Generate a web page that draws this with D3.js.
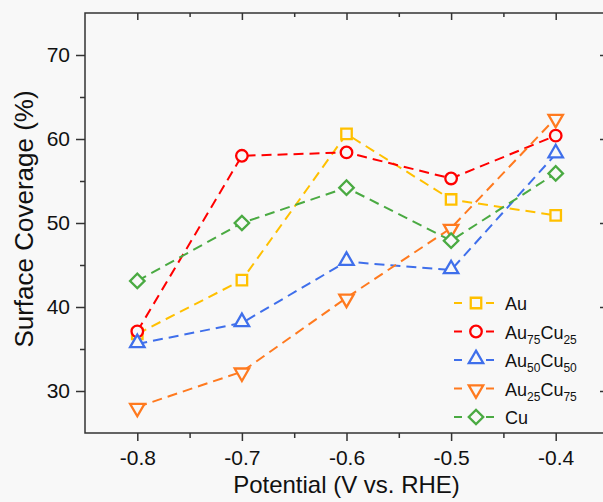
<!DOCTYPE html>
<html>
<head>
<meta charset="utf-8">
<script src="https://cdn.jsdelivr.net/npm/d3@7"></script>
<style>
  html, body { margin: 0; padding: 0; background: #f8f8f8; }
  svg { display: block; }
  text { font-family: "Liberation Sans", Arial, sans-serif; fill: #111; }
</style>
</head>
<body>
<svg id="chart" width="603" height="502"></svg>
<script>
// ---- data ----
const potentials = [-0.8, -0.7, -0.6, -0.5, -0.4];
const seriesNames = ["Au", "Au75Cu25", "Au50Cu50", "Au25Cu75", "Cu"];
const auValues       = [36.8, 43.2, 60.6, 52.8, 50.9];
const au75cu25Values = [37.1, 58.0, 58.4, 55.3, 60.4];
const au50cu50Values = [35.6, 38.1, 45.4, 44.4, 58.2];
const au25cu75Values = [28.1, 32.3, 41.1, 49.4, 62.5];
const cuValues       = [43.1, 50.0, 54.2, 47.9, 55.9];
const xTicks = [-0.8, -0.7, -0.6, -0.5, -0.4];
const xMinorTicks = [-0.75, -0.65, -0.55, -0.45];
const yTicks = [30, 40, 50, 60, 70];
const yMinorTicks = [35, 45, 55, 65];

const seriesValues = [auValues, au75cu25Values, au50cu50Values, au25cu75Values, cuValues];
const colors = ["#FFC000", "#FF0000", "#3F6FEB", "#FF7A1F", "#4AAA42"];
const shapes = ["square", "circle", "triangle", "invtriangle", "diamond"];
const legendParts = [
  [["Au", false]],
  [["Au", false], ["75", true], ["Cu", false], ["25", true]],
  [["Au", false], ["50", true], ["Cu", false], ["50", true]],
  [["Au", false], ["25", true], ["Cu", false], ["75", true]],
  [["Cu", false]]
];

const svg = d3.select("#chart");
const bg = "#f8f8f8";
const L = 85, R = 608, T = 13, B = 433;

const x = d3.scaleLinear().domain([-0.85, -0.35]).range([L, R]);
const y = d3.scaleLinear().domain([25, 75]).range([B, T]);

const fmt = v => d3.format(".1f")(v).replace("\u2212", "-");
const axisColor = "#333";

// axes
function styleAxis(g) {
  g.select(".domain").remove();
  g.selectAll(".tick line").attr("stroke", axisColor).attr("stroke-width", 1.5);
  g.selectAll(".tick text").attr("font-size", 21).attr("fill", "#111")
    .attr("font-family", "Liberation Sans, Arial, sans-serif");
}
// bottom
svg.append("g").attr("transform", `translate(0,${B})`)
  .call(d3.axisBottom(x).tickValues(xTicks).tickSize(8).tickPadding(9).tickFormat(fmt))
  .call(styleAxis);
svg.append("g").attr("transform", `translate(0,${B})`)
  .call(d3.axisBottom(x).tickValues(xMinorTicks).tickSize(5).tickFormat(""))
  .call(styleAxis);
// top
svg.append("g").attr("transform", `translate(0,${T})`)
  .call(d3.axisTop(x).tickValues(xTicks).tickSize(-7).tickFormat(""))
  .call(styleAxis);
svg.append("g").attr("transform", `translate(0,${T})`)
  .call(d3.axisTop(x).tickValues(xMinorTicks).tickSize(-4).tickFormat(""))
  .call(styleAxis);
// left
svg.append("g").attr("transform", `translate(${L},0)`)
  .call(d3.axisLeft(y).tickValues(yTicks).tickSize(9).tickPadding(6).tickFormat(d3.format("d")))
  .call(styleAxis);
svg.append("g").attr("transform", `translate(${L},0)`)
  .call(d3.axisLeft(y).tickValues(yMinorTicks).tickSize(5).tickFormat(""))
  .call(styleAxis);
// right
svg.append("g").attr("transform", `translate(${R},0)`)
  .call(d3.axisRight(y).tickValues(yTicks).tickSize(-8).tickFormat(""))
  .call(styleAxis);
svg.append("g").attr("transform", `translate(${R},0)`)
  .call(d3.axisRight(y).tickValues(yMinorTicks).tickSize(-4).tickFormat(""))
  .call(styleAxis);

// frame
svg.append("rect").attr("x", L).attr("y", T).attr("width", R - L).attr("height", B - T)
  .attr("fill", "none").attr("stroke", axisColor).attr("stroke-width", 1.5);

// axis titles
svg.append("text").attr("x", (L + R) / 2).attr("y", 493).attr("text-anchor", "middle")
  .attr("font-size", 24).text("Potential (V vs. RHE)");
svg.append("text").attr("transform", `translate(33,${(T + B) / 2 - 4}) rotate(-90)`)
  .attr("text-anchor", "middle").attr("font-size", 26).text("Surface Coverage (%)");

// markers
function markerPath(shape) {
  if (shape === "square") return d3.symbol().type(d3.symbolSquare).size(110)();
  if (shape === "circle") return d3.symbol().type(d3.symbolCircle).size(105)();
  if (shape === "triangle") return d3.symbol().type(d3.symbolTriangle).size(90)();
  if (shape === "invtriangle") return d3.symbol().type(d3.symbolTriangle).size(90)();
  if (shape === "diamond") return d3.symbol().type(d3.symbolSquare).size(105)();
}
function markerRot(shape) {
  if (shape === "invtriangle") return 180;
  if (shape === "diamond") return 45;
  return 0;
}
function markerDy(shape) {
  if (shape === "triangle") return -1;
  if (shape === "invtriangle") return 1;
  return 0;
}

const line = d3.line().x((d, i) => x(potentials[i])).y(d => y(d));

seriesValues.forEach((vals, si) => {
  const g = svg.append("g");
  g.append("path").datum(vals).attr("d", line)
    .attr("fill", "none").attr("stroke", colors[si]).attr("stroke-width", 2)
    .attr("stroke-dasharray", "10,6");
  g.selectAll("path.m").data(vals).join("path").attr("class", "m")
    .attr("d", markerPath(shapes[si]))
    .attr("transform", (d, i) => `translate(${x(potentials[i])},${y(d) + markerDy(shapes[si])}) rotate(${markerRot(shapes[si])})`)
    .attr("fill", bg).attr("stroke", colors[si]).attr("stroke-width", 2.3);
});

// legend
const legY0 = 303, legDy = 28.5;
seriesNames.forEach((name, si) => {
  const ly = legY0 + si * legDy;
  const g = svg.append("g");
  g.append("line").attr("x1", 454).attr("x2", 494).attr("y1", ly).attr("y2", ly)
    .attr("stroke", colors[si]).attr("stroke-width", 2).attr("stroke-dasharray", "8,24");
  g.append("path").attr("d", markerPath(shapes[si]))
    .attr("transform", `translate(476,${ly + markerDy(shapes[si])}) rotate(${markerRot(shapes[si])})`)
    .attr("fill", bg).attr("stroke", colors[si]).attr("stroke-width", 2.3);
  const t = g.append("text").attr("x", 505).attr("y", ly + 7).attr("font-size", 18);
  let shifted = false;
  legendParts[si].forEach(([s, sub]) => {
    const ts = t.append("tspan").text(s);
    if (sub && !shifted) { ts.attr("dy", 5).attr("font-size", 12); shifted = true; }
    else if (sub) { ts.attr("font-size", 12); }
    else if (shifted) { ts.attr("dy", -5); shifted = false; }
  });
});
</script>
</body>
</html>
